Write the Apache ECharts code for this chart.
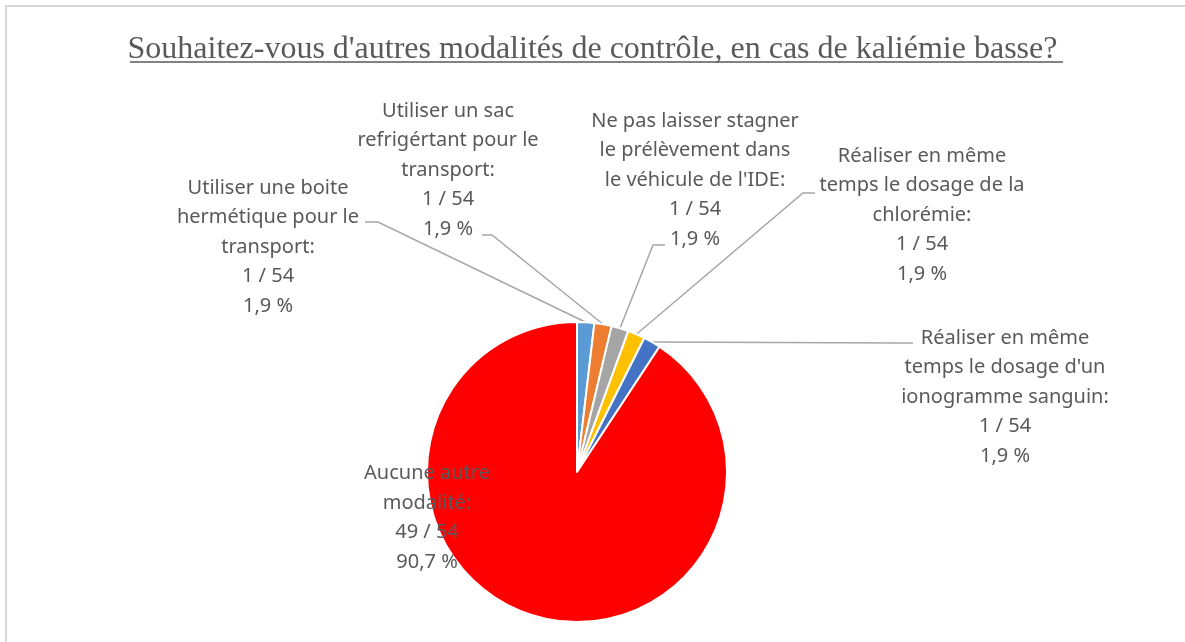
<!DOCTYPE html>
<html>
<head>
<meta charset="utf-8">
<script src="https://cdn.jsdelivr.net/npm/echarts@6/dist/echarts.min.js"></script>
<style>
  html, body { margin: 0; padding: 0; background: #fff; }
  #chart { width: 1185px; height: 642px; }
</style>
</head>
<body>
<div id="chart"></div>
<script>
// catégories (retours à la ligne comme dans Excel)
const categories = [
    'Utiliser une boite\nhermétique pour le\ntransport:',
    'Utiliser un sac\nrefrigértant pour le\ntransport:',
    'Ne pas laisser stagner\nle prélèvement dans\nle véhicule de l\'IDE:',
    'Réaliser en même\ntemps le dosage de la\nchlorémie:',
    'Réaliser en même\ntemps le dosage d\'un\nionogramme sanguin:',
    'Aucune autre\nmodalité:'
];
const counts = [1, 1, 1, 1, 1, 49];
const total = 54;
const colors = ['#5B9BD5', '#ED7D31', '#A5A5A5', '#FFC000', '#4472C4', '#FF0000'];

// position des étiquettes (centre du bloc de texte)
const labelPos = [
    [268, 247],
    [448, 170],
    [695, 180],
    [922, 215],
    [1005, 397],
    [427, 518]
];
// attache des lignes de rappel : [coude, extrémité côté étiquette]
const leaderPts = [
    [[378, 222], [365, 222]],
    [[492, 235], [482, 235]],
    [[653, 245], [665, 245]],
    [[803, 193], [815, 193]],
    [[900, 343], [913, 343]],
    null
];

const chart = echarts.init(document.getElementById('chart'));

const option = {
    animation: false,
    title: {
        text: 'Souhaitez-vous d\'autres modalités de contrôle, en cas de kaliémie basse?',
        left: 'center',
        top: 29,
        textStyle: {
            fontFamily: 'Liberation Serif',
            fontWeight: 'normal',
            fontSize: 32,
            color: '#595959'
        }
    },
    graphic: [
        {
            type: 'rect',
            shape: { x: 6, y: 6, width: 1250, height: 700 },
            style: { fill: 'none', stroke: '#d9d9d9', lineWidth: 2 }
        },
        {
            type: 'line',
            shape: { x1: 130, y1: 62, x2: 1063, y2: 62 },
            style: { stroke: '#595959', lineWidth: 1.5 }
        }
    ],
    series: [
        {
            type: 'pie',
            center: [577, 472],
            radius: 150,
            startAngle: 90,
            clockwise: true,
            avoidLabelOverlap: false,
            itemStyle: { borderColor: '#fff', borderWidth: 2 },
            label: {
                show: true,
                fontFamily: 'Noto Sans',
                fontSize: 20,
                lineHeight: 29.5,
                color: '#595959',
                align: 'center',
                formatter: (p) => {
                    const pct = (p.value / total * 100).toFixed(1).replace('.', ',');
                    return `${p.name}\n${p.value} / ${total}\n${pct} %`;
                }
            },
            labelLine: {
                show: true,
                lineStyle: { color: '#A6A6A6', width: 1.5 }
            },
            labelLayout: (params) => {
                const i = params.dataIndex;
                const pos = labelPos[i];
                const out = {
                    x: pos[0],
                    y: pos[1],
                    align: 'center',
                    verticalAlign: 'middle'
                };
                if (leaderPts[i] && params.labelLinePoints) {
                    out.labelLinePoints = [params.labelLinePoints[0]].concat(leaderPts[i]);
                }
                return out;
            },
            data: categories.map((name, i) => ({
                name: name,
                value: counts[i],
                itemStyle: { color: colors[i] },
                labelLine: { show: i < 5 }
            }))
        }
    ]
};

chart.setOption(option);
</script>
</body>
</html>
